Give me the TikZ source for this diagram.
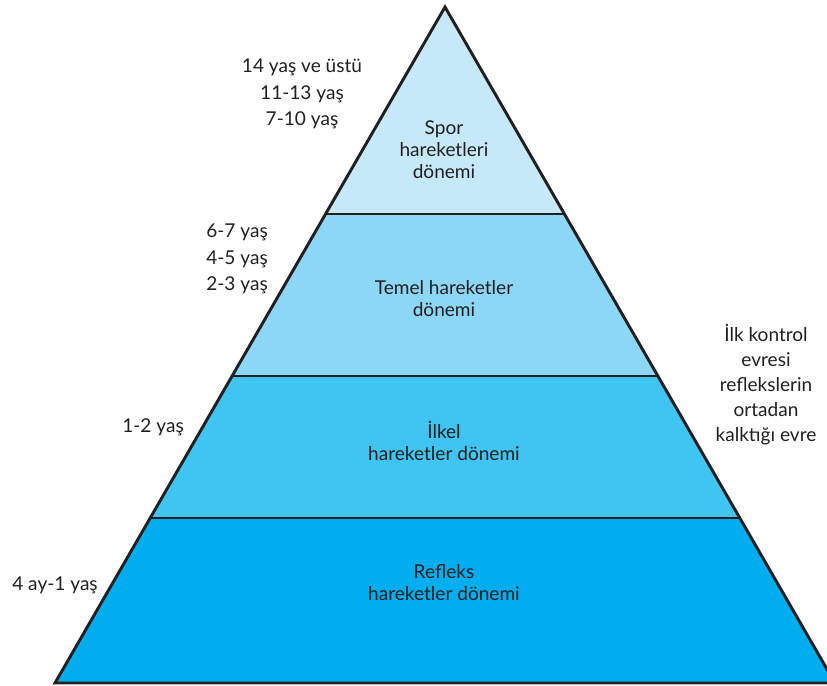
\documentclass[tikz,border=0pt]{standalone}
\usepackage{fontspec}
\setmainfont{Lato}
\definecolor{txt}{HTML}{231F20}
\definecolor{bandA}{HTML}{C6E9FA}
\definecolor{bandB}{HTML}{8CD6F6}
\definecolor{bandC}{HTML}{40C5F3}
\definecolor{bandD}{HTML}{00AEEF}
\begin{document}
\begin{tikzpicture}[x=0.75pt,y=-0.75pt,
  lbl/.style={text=txt,align=center,font=\fontsize{14.3}{16.5}\selectfont,inner sep=0pt},
  side/.style={text=txt,align=center,font=\fontsize{14.3}{19.8}\selectfont,inner sep=0pt},
  rside/.style={text=txt,align=center,font=\fontsize{14.3}{18.75}\selectfont,inner sep=0pt},
  edge/.style={draw=txt,line width=2.2pt,line join=miter}]
\useasboundingbox (0,0) rectangle (827,685);
\coordinate (apex) at (445,7);
\coordinate (l1) at (325.6,214); \coordinate (r1) at (564.4,214);
\coordinate (l2) at (232.1,376); \coordinate (r2) at (657.9,376);
\coordinate (l3) at (150.2,518); \coordinate (r3) at (739.8,518);
\coordinate (bl) at (55,683);    \coordinate (br) at (835,683);
\fill[bandA] (apex) -- (r1) -- (l1) -- cycle;
\fill[bandB] (l1) -- (r1) -- (r2) -- (l2) -- cycle;
\fill[bandC] (l2) -- (r2) -- (r3) -- (l3) -- cycle;
\fill[bandD] (l3) -- (r3) -- (br) -- (bl) -- cycle;
\draw[edge] (l1) -- (r1);
\draw[edge] (l2) -- (r2);
\draw[edge] (l3) -- (r3);
\draw[edge] (apex) -- (br) -- (bl) -- cycle;
\node[lbl] (spor) at (444,150) {Spor\\hareketleri\\dönemi};
\node[lbl] (temel) at (444,298.5) {Temel hareketler\\dönemi};
\node[lbl] (ilkel) at (444,441) {İlkel\\hareketler dönemi};
\node[lbl] (refleks) at (444,583) {Refleks\\hareketler dönemi};
\node[side] (ageA) at (302,94) {14 yaş ve üstü\\11-13 yaş\\7-10 yaş};
\node[side] (ageB) at (237,259) {6-7 yaş\\4-5 yaş\\2-3 yaş};
\node[side] (ageC) at (153,427) {1-2 yaş};
\node[side] (ageD) at (55,585) {4 ay-1 yaş};
\node[rside] (ilk) at (766,385) {İlk kontrol\\evresi\\reflekslerin\\ortadan\\kalktığı evre};
\end{tikzpicture}
\end{document}
